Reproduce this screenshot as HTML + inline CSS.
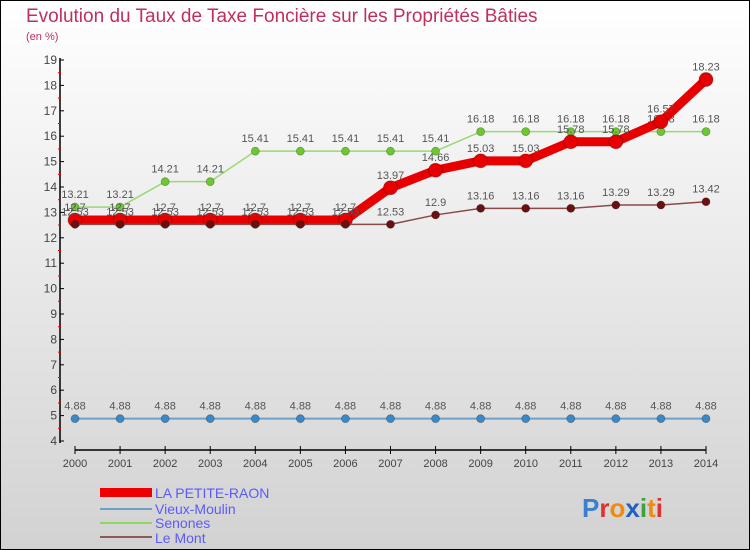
<!DOCTYPE html>
<html><head><meta charset="utf-8"><style>
body{margin:0}
svg{display:block;font-family:"Liberation Sans",sans-serif}
</style></head><body>
<svg id="c" width="750" height="550" viewBox="0 0 750 550" xmlns="http://www.w3.org/2000/svg">
<defs><linearGradient id="bg" x1="0" y1="0" x2="0" y2="1"><stop offset="0" stop-color="#ffffff"/><stop offset="1" stop-color="#d2d2d2"/></linearGradient></defs>
<rect x="0.5" y="0.5" width="749" height="549" fill="url(#bg)" stroke="#000"/>
<text x="26" y="22" font-size="19" fill="#c0305a">Evolution du Taux de Taxe Foncière sur les Propriétés Bâties</text>
<text x="26" y="40" font-size="11" fill="#c0305a">(en %)</text>
<g id="axes"></g><g id="series"></g>
<g>
<rect x="100" y="488" width="52" height="9" fill="#e00"/>
<text x="155" y="498" font-size="14" fill="#5a5aff">LA PETITE-RAON</text>
<rect x="100" y="508" width="52" height="2" fill="#6ea0c8"/>
<text x="155" y="514" font-size="14" fill="#5a5aff">Vieux-Moulin</text>
<rect x="100" y="522" width="52" height="2" fill="#8ed860"/>
<text x="155" y="528" font-size="14" fill="#5a5aff">Senones</text>
<rect x="100" y="536" width="52" height="2" fill="#8a5a5a"/>
<text x="155" y="543" font-size="14" fill="#5a5aff">Le Mont</text>
</g>
<text x="582" y="517" font-size="26" font-weight="bold"><tspan fill="#3a7fd0">P</tspan><tspan fill="#e03030">r</tspan><tspan fill="#f08a10">o</tspan><tspan fill="#2060c0">x</tspan><tspan fill="#40a040">i</tspan><tspan fill="#f08a10">t</tspan><tspan fill="#e03030">i</tspan></text>
</svg>
<script>
const years=[2000,2001,2002,2003,2004,2005,2006,2007,2008,2009,2010,2011,2012,2013,2014];
const petiteRaon=[12.7,12.7,12.7,12.7,12.7,12.7,12.7,13.97,14.66,15.03,15.03,15.78,15.78,16.57,18.23];
const vieuxMoulin=[4.88,4.88,4.88,4.88,4.88,4.88,4.88,4.88,4.88,4.88,4.88,4.88,4.88,4.88,4.88];
const senones=[13.21,13.21,14.21,14.21,15.41,15.41,15.41,15.41,15.41,16.18,16.18,16.18,16.18,16.18,16.18];
const leMont=[12.53,12.53,12.53,12.53,12.53,12.53,12.53,12.53,12.9,13.16,13.16,13.16,13.29,13.29,13.42];
const yTicks=[4,5,6,7,8,9,10,11,12,13,14,15,16,17,18,19];
const NS="http://www.w3.org/2000/svg";
const x=i=>75+i*(706-75)/(years.length-1);
const y=v=>441-(v-4)*(441-60)/15;
function mk(t,a,p,txt){const e=document.createElementNS(NS,t);for(const k in a)e.setAttribute(k,a[k]);if(txt!==undefined)e.textContent=txt;p.appendChild(e);return e;}
const ax=document.getElementById('axes');
let e=mk('line',{x1:60,y1:58,x2:60,y2:443,stroke:'#000','stroke-width':1.5},ax);


e=mk('line',{x1:75,y1:450,x2:706,y2:450,stroke:'#000','stroke-width':1.5},ax);


yTicks.forEach(v=>{
  mk('line',{x1:60,y1:y(v),x2:64,y2:y(v),stroke:'#000'},ax);
  if(v<19)mk('line',{x1:58,y1:y(v+0.5),x2:61,y2:y(v+0.5),stroke:'#e00'},ax);
  const t=mk('text',{x:57,y:y(v)+4,'font-size':12,fill:'#444','text-anchor':'end'},ax,v);
  
  
});
years.forEach((yr,i)=>{
  mk('line',{x1:x(i),y1:446,x2:x(i),y2:454,stroke:'#000'},ax);
  const t=mk('text',{x:x(i),y:467,'font-size':11,fill:'#444','text-anchor':'middle'},ax,yr);
  
  
});
const sg=document.getElementById('series');
function draw(vals,name,color,w,r,dot){
  const g=mk('g',{},sg);
  
  
  mk('polyline',{points:vals.map((v,i)=>x(i)+','+y(v)).join(' '),fill:'none',stroke:color,'stroke-width':w,'stroke-linejoin':'round'},g);
  vals.forEach((v,i)=>{
    const c=mk('circle',{cx:x(i),cy:y(v),r:r,fill:dot,stroke:'rgba(0,0,0,0.3)','stroke-width':0.8},g);
    
    
    const t=mk('text',{x:x(i),y:y(v)-9,'font-size':11,fill:'#555','text-anchor':'middle'},g,String(v));
    
    
  });
}
draw(vieuxMoulin,'vieux-moulin','#6ea0c8',2,4,'#3a88c8');
draw(senones,'senones','#9ad870',1.5,4,'#6cc830');
draw(petiteRaon,'la-petite-raon','#e80000',9,7,'#e80000');
draw(leMont,'le-mont','#8a4a4a',1.5,4,'#6a1010');
</script>
</body></html>
